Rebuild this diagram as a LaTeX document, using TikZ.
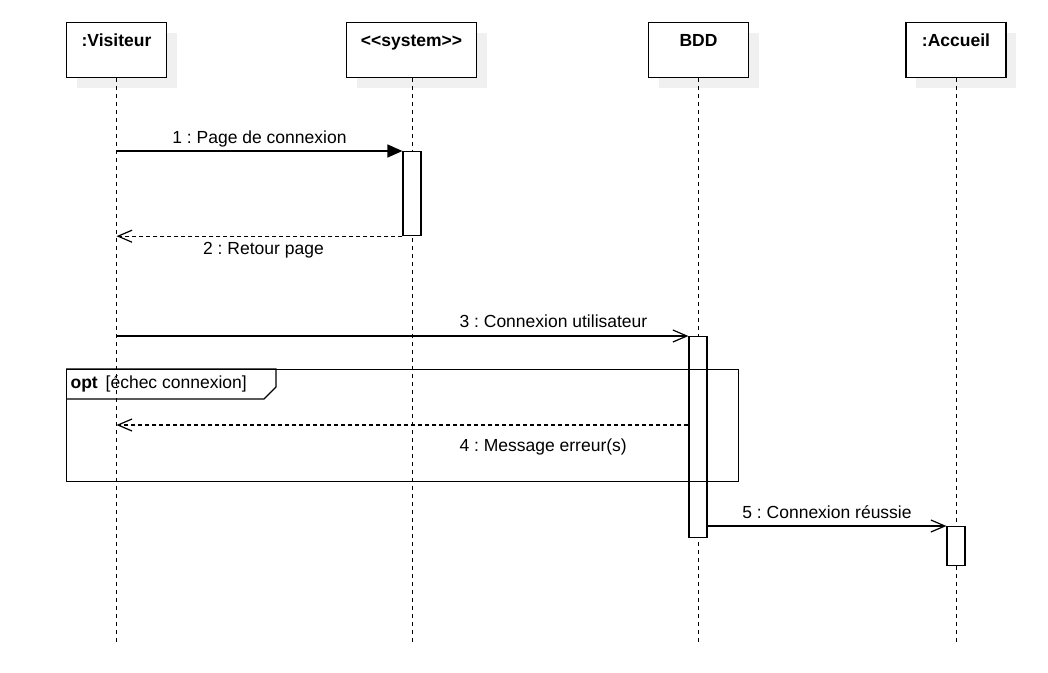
\documentclass[tikz,border=0pt]{standalone}
\usepackage{fontspec}
\setmainfont{Liberation Sans}
\usetikzlibrary{arrows.meta,positioning,calc,shadows}

\newcommand{\diagfont}{\fontsize{17.5}{21}\selectfont\frenchspacing}

\tikzset{
  head/.style={draw, fill=white, anchor=north, minimum width=100pt, inner ysep=0pt,
    text height=24pt, text depth=31pt, font=\diagfont\bfseries,
    drop shadow={fill=black!6, opacity=1, shadow xshift=10pt, shadow yshift=-10pt}},
  act/.style={draw, fill=white, anchor=north, minimum width=18pt, inner sep=0pt},
  lifeline/.style={line width=1pt, dash pattern=on 4pt off 4pt},
  sync/.style={-{Triangle[length=15pt,width=13pt]}},
  msg/.style={-{Straight Barb[length=14pt,width=12pt]}},
  reply/.style={msg, dash pattern=on 4pt off 3pt},
  lbl/.style={anchor=base}
}

\begin{document}
\begin{tikzpicture}[x=1pt, y=-1pt, line width=1.2pt, font=\diagfont]
  \useasboundingbox (0,0) rectangle (1048,672);

  \node[head] (vis) at (116.5,22) {:Visiteur};
  \node[head, minimum width=130pt] (sys) at (411.5,22) {<{}<system>{}>};
  \node[head] (bdd) at (698.5,22) {BDD};
  \node[head] (acc) at (956,22) {:Accueil};

  \coordinate (visEnd) at (116.5,644);
  \coordinate (sysEnd) at (412,644);
  \coordinate (bddEnd) at (698.5,644);
  \coordinate (accEnd) at (956,644);
  \draw[lifeline] (vis.south) -- (visEnd);
  \draw[lifeline] (sys.south -| sysEnd) -- (sysEnd);
  \draw[lifeline] (bdd.south) -- (bddEnd);
  \draw[lifeline] (acc.south) -- (accEnd);

  \node[act, minimum height=84pt] (a1) at (412,151) {};
  \node[act, minimum height=201pt] (a2) at (698,336) {};
  \node[act, minimum height=39pt] (a3) at (956,526) {};

  \draw[sync] (vis.south |- a1.north) -- (a1.north west)
    node[lbl, midway, yshift=8pt] {1 : Page de connexion};
  \draw[reply] (a1.south west) -- (vis.south |- a1.south)
    node[lbl, midway, xshift=4pt, yshift=-18pt] {2 : Retour page};
  \draw[msg] (vis.south |- a2.north) -- (a2.north west)
    node[lbl, pos=0.764, yshift=9pt] {3 : Connexion utilisateur};
  \coordinate (m4) at ([yshift=-89pt]a2.north west);
  \draw[reply] (m4) -- (vis.south |- m4)
    node[lbl, pos=0.254, yshift=-26pt] {4 : Message erreur(s)};
  \draw[msg] (a2.east |- a3.north) -- (a3.north west)
    node[lbl, midway, yshift=8pt] {5 : Connexion réussie};

  \node[draw, anchor=north west, minimum width=672pt, minimum height=112pt, inner sep=0pt] (opt) at (66,369) {};
  \draw (opt.north west) -- ++(210,0) -- ++(0,18) -- ++(-12,12) -- (opt.north west |- 0,399);
  \node[anchor=base west, inner sep=0pt] (optlbl) at (70,388) {\textbf{opt}\hspace{0.45em}[échec connexion]};
\end{tikzpicture}
\end{document}
